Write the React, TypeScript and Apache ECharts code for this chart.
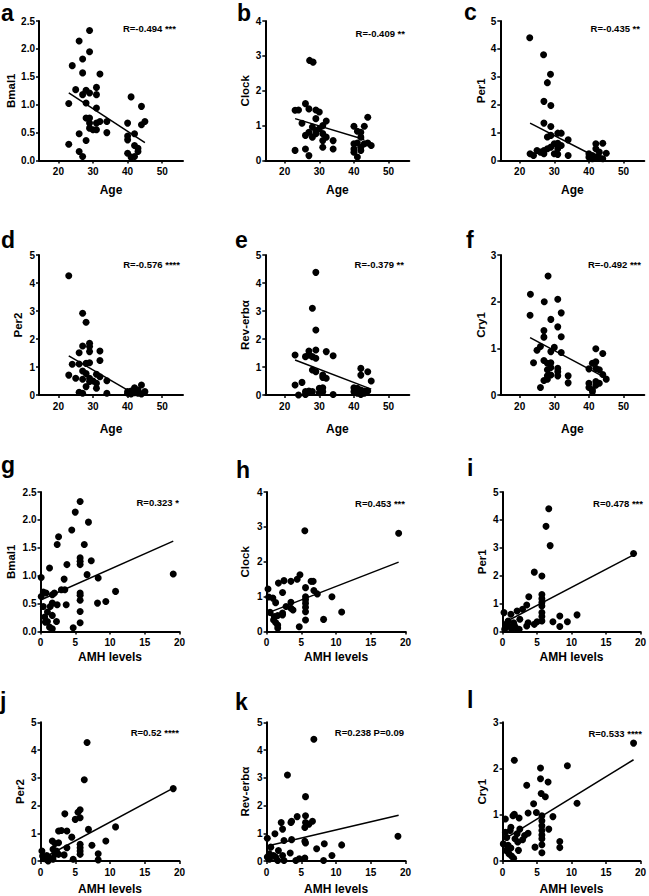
import React, { useEffect, useRef } from "react";
import * as echarts from "echarts";

const FONT = "'Liberation Sans', Arial, Helvetica, sans-serif";

// ---------- data ----------
const bmal1Age = [[24,1.70],[26,2.14],[29,2.33],[27,1.82],[29,1.95],[27,1.57],[32,1.55],[25,1.27],[23,1.02],[28,1.26],[29,1.21],[27,1.18],[31,1.31],[31,1.18],[28,1.03],[31,0.94],[28,0.76],[29,0.76],[29,0.67],[32,0.70],[31,0.67],[34,0.70],[29,0.58],[30,0.55],[31,0.55],[34,0.50],[26,0.48],[23,0.29],[28,0.36],[26,0.16],[27,0.07],[41,1.14],[40,0.67],[44,0.97],[44,0.64],[45,0.70],[40,0.44],[40,0.37],[42,0.48],[42,0.27],[43,0.22],[43,0.16],[40,0.13],[41,0.06],[42,0.07]];
const bmal1AgeFit = [[23,1.21],[45,0.32]];

const clockAge = [[27.2,2.87],[28.2,2.82],[23,1.44],[24,1.45],[26,1.63],[27,1.48],[29,1.45],[30,1.39],[29,1.20],[25,1.07],[32,1.13],[31,1.00],[30,0.91],[28,0.96],[29,0.86],[27,0.81],[26,0.72],[28,0.67],[31,0.77],[32,0.67],[34,0.57],[31,0.57],[23,0.29],[26,0.33],[27,0.14],[31,0.38],[34,0.33],[29,0.77],[44,1.24],[40,0.98],[43,0.98],[41,0.84],[42,0.81],[42,0.67],[40,0.48],[40,0.33],[44,0.50],[45,0.43],[43,0.48],[42,0.38],[40,0.24],[41,0.10],[42,0.29],[41,0.50]];
const clockAgeFit = [[23,1.20],[43,0.60]];

const per1Age = [[22.9,4.40],[26.9,3.79],[28.9,3.09],[28,2.79],[27,2.12],[29,1.97],[27,1.34],[29,1.22],[31,0.98],[32,0.98],[28,0.84],[29,0.90],[34,0.74],[31,0.62],[32,0.54],[31,0.42],[29,0.48],[28,0.42],[26,0.30],[25,0.36],[27,0.24],[23,0.24],[24,0.18],[30,0.24],[31,0.22],[34,0.18],[27,0.36],[30,0.60],[44,0.62],[42,0.60],[42,0.42],[43,0.30],[45,0.26],[40,0.24],[41,0.18],[40,0.12],[42,0.12],[43,0.10],[41,0.06],[44,0.06]];
const per1AgeFit = [[23,1.34],[42.5,0.10]];

const per2Age = [[23,4.26],[27,2.92],[28,2.60],[27,1.75],[29,1.85],[29,1.73],[29,1.55],[32,1.57],[26,1.51],[32,1.23],[24,1.10],[26,1.11],[28,1.13],[29,1.15],[27,0.86],[28,0.77],[31,0.74],[32,0.65],[23,0.71],[25,0.60],[27,0.56],[29,0.60],[30,0.50],[34,0.51],[31,0.42],[28,0.30],[31,0.24],[26,0.10],[27,0.06],[34,0.06],[29,0.48],[44,0.36],[42,0.26],[43,0.18],[41,0.14],[40,0.12],[45,0.12],[42,0.08],[40,0.06],[43,0.06],[41,0.04],[44,0.04]];
const per2AgeFit = [[23,1.40],[41,0.10]];

const reverbAge = [[29,4.38],[28,3.10],[29,2.32],[23,1.43],[26,1.37],[27,1.57],[27,1.43],[29,1.61],[28,1.37],[29,1.31],[32,1.55],[34,1.40],[28,0.89],[29,0.83],[31,0.71],[32,0.60],[31,0.63],[23,0.36],[25,0.45],[24,0.00],[26,0.12],[27,0.14],[28,0.12],[30,0.24],[31,0.26],[31,0.12],[34,0.02],[26,0.02],[30,0.08],[42,0.95],[44,0.83],[42,0.71],[45,0.50],[40,0.26],[41,0.24],[42,0.18],[43,0.14],[44,0.14],[41,0.06],[42,0.02],[40,0.12],[43,0.06]];
const reverbAgeFit = [[23,1.25],[45,0.21]];

const cry1Age = [[28.2,2.55],[23.1,2.16],[27.1,2.00],[31,2.05],[23,1.71],[32,1.76],[29,1.62],[27,1.38],[31,1.46],[27,1.24],[32,1.25],[25,0.96],[26,1.04],[30,1.02],[29,0.93],[32,0.91],[24,0.69],[27,0.74],[28,0.68],[29,0.69],[29,0.59],[31,0.57],[31,0.50],[28,0.54],[29,0.43],[31,0.41],[34,0.41],[34,0.26],[28,0.41],[27,0.31],[28,0.34],[26,0.16],[42,0.99],[44,0.89],[41,0.68],[42,0.71],[40,0.56],[42,0.57],[43,0.54],[44,0.44],[45,0.34],[40,0.25],[42,0.29],[43,0.25],[42,0.21],[40,0.16],[41,0.11],[41,0.07]];
const cry1AgeFit = [[23,1.23],[45,0.36]];

const bmal1Amh = [[5.7,2.33],[5,2.14],[6.9,1.96],[4.5,1.82],[2.6,1.70],[2.4,1.56],[6.3,1.56],[5.7,1.32],[5.7,1.26],[7.3,1.27],[5.7,1.20],[3.8,1.20],[1.3,1.14],[6.7,1.02],[0.1,0.97],[3.4,0.94],[8.3,0.96],[19.1,1.03],[0.4,0.71],[0.8,0.69],[1.7,0.66],[2.0,0.69],[3.0,0.75],[3.5,0.75],[5.7,0.69],[5.7,0.65],[10.8,0.72],[0.1,0.63],[0.4,0.45],[1.7,0.51],[2.4,0.48],[3.7,0.48],[8.2,0.51],[9.4,0.54],[5.7,0.56],[1.4,0.45],[5.7,0.36],[0.6,0.26],[1.0,0.35],[1.7,0.29],[1.0,0.18],[2.3,0.18],[5.7,0.16],[1.3,0.08],[1.7,0.05],[4.7,0.07],[0.7,0.17]];
const bmal1AmhFit = [[0.1,0.57],[19.1,1.62]];

const clockAmh = [[5.5,2.89],[19,2.82],[4.8,1.63],[4.4,1.50],[3.5,1.44],[2.5,1.46],[1.7,1.39],[6.4,1.44],[6.7,1.44],[0.2,1.22],[5.6,1.26],[2.3,1.12],[6.8,1.18],[7.3,1.08],[0.3,0.99],[0.9,0.96],[5.6,1.00],[9.4,1.00],[5.6,0.91],[1.3,0.83],[3.5,0.84],[5.6,0.81],[2.8,0.72],[3.5,0.67],[3.8,0.62],[5.6,0.70],[5.6,0.57],[0.5,0.55],[2.3,0.53],[10.8,0.56],[1.1,0.43],[1.6,0.46],[8.2,0.35],[5.6,0.33],[1.0,0.33],[1.3,0.26],[1.6,0.19],[4.7,0.14],[1.6,0.10],[2.3,0.48]];
const clockAmhFit = [[0.1,0.53],[19,1.99]];

const per1Amh = [[6.7,4.40],[6.3,3.77],[6.9,3.08],[19.0,2.80],[4.6,2.13],[5.7,1.99],[5.7,1.33],[5.7,1.18],[3.8,1.25],[5.7,1.04],[5.7,0.92],[3.5,0.95],[2.9,0.80],[2.1,0.74],[5.7,0.68],[0.2,0.68],[1.2,0.62],[10.8,0.60],[8.3,0.56],[5.7,0.38],[7.3,0.35],[9.4,0.35],[5.0,0.35],[3.7,0.32],[4.6,0.26],[8.3,0.18],[2.5,0.44],[0.8,0.38],[1.6,0.32],[3.5,0.20],[0.5,0.26],[0.9,0.20],[1.9,0.14],[1.3,0.08],[2.4,0.08],[0.3,0.08],[1.7,0.23],[5.7,0.54]];
const per1AmhFit = [[0.3,0.33],[19,2.75]];

const per2Amh = [[6.7,4.27],[6.3,2.93],[19.1,2.61],[5.7,1.85],[5.4,1.76],[5.7,1.56],[5.0,1.50],[3.5,1.70],[3.0,1.10],[2.6,1.08],[3.8,1.08],[6.9,1.14],[10.8,1.23],[4.5,0.86],[9.4,0.72],[7.4,0.57],[1.7,0.72],[2.1,0.63],[2.6,0.66],[5.7,0.60],[5.7,0.48],[5.7,0.36],[5.7,0.24],[3.8,0.48],[1.8,0.42],[8.3,0.26],[3.4,0.22],[2.6,0.24],[2.1,0.24],[0.2,0.36],[0.9,0.20],[1.3,0.12],[1.8,0.06],[0.6,0.08],[4.7,0.06],[1.1,0.0],[8.3,0.04],[0.3,0.18],[2.3,0.36]];
const per2AmhFit = [[0.2,0.08],[19.1,2.63]];

const reverbAmh = [[6.8,4.39],[3.0,3.10],[5.6,2.32],[5.6,1.63],[4.4,1.60],[3.6,1.43],[3.5,1.39],[2.1,1.39],[6.6,1.43],[5.6,1.39],[6.1,1.33],[5.5,1.21],[2.3,1.15],[1.2,0.98],[0.1,0.82],[18.9,0.89],[5.5,0.71],[5.6,0.65],[3.6,0.77],[2.5,0.74],[8.3,0.62],[10.8,0.58],[7.2,0.44],[0.6,0.50],[1.7,0.38],[3.4,0.29],[9.4,0.20],[2.3,0.20],[0.4,0.26],[1.0,0.20],[1.3,0.14],[4.7,0.08],[5.5,0.11],[0.4,0.06],[1.6,0.02],[2.5,0.02],[8.2,0.02],[4.2,0.02],[0.1,0.14]];
const reverbAmhFit = [[0.1,0.54],[19,1.65]];

const cry1Amh = [[19.0,2.55],[1.7,2.18],[5.5,2.01],[9.4,2.06],[5.5,1.78],[6.6,1.71],[3.5,1.64],[5.6,1.46],[6.2,1.39],[4.5,1.24],[10.8,1.25],[3.7,1.04],[4.9,1.05],[1.7,1.01],[1.5,0.98],[7.3,0.96],[2.4,0.93],[0.4,0.91],[5.7,0.98],[5.7,0.87],[5.7,0.76],[5.7,0.66],[5.7,0.56],[5.7,0.48],[5.7,0.35],[5.7,0.18],[6.7,0.69],[1.2,0.73],[1.1,0.66],[2.5,0.69],[2.1,0.59],[1.8,0.48],[3.2,0.55],[3.7,0.60],[2.9,0.46],[2.2,0.41],[0.4,0.62],[0.6,0.51],[0.1,0.37],[0.8,0.34],[1.2,0.28],[0.5,0.23],[2.3,0.23],[0.9,0.16],[1.3,0.11],[1.6,0.06],[8.3,0.42],[8.3,0.29],[4.7,0.30]];
const cry1AmhFit = [[0.1,0.46],[19,2.19]];

const panelLetters = ["a","b","c","d","e","f","g","h","i","j","k","l"];
const geneNames = ["Bmal1","Clock","Per1","Per2","Rev-erbα","Cry1"];
const rLabels = ["R=-0.494 ***","R=-0.409 **","R=-0.435 **","R=-0.576 ****","R=-0.379 **","R=-0.492 ***","R=0.323 *","R=0.453 ***","R=0.478 ***","R=0.52 ****","R=0.238 P=0.09","R=0.533 ****"];
const geneYMax = [2.5, 4, 5, 5, 5, 3];
const geneYStep = [0.5, 1, 1, 1, 1, 1];
const ageTicks = [20, 30, 40, 50];
const amhTicks = [0, 5, 10, 15, 20];
const xNames = ["Age", "AMH levels"];
const panelData = [bmal1Age, clockAge, per1Age, per2Age, reverbAge, cry1Age, bmal1Amh, clockAmh, per1Amh, per2Amh, reverbAmh, cry1Amh];
const panelFits = [bmal1AgeFit, clockAgeFit, per1AgeFit, per2AgeFit, reverbAgeFit, cry1AgeFit, bmal1AmhFit, clockAmhFit, per1AmhFit, per2AmhFit, reverbAmhFit, cry1AmhFit];

// ---------- layout ----------
const ageLeft = [39, 265.3, 500.3];
const amhLeft = [40.5, 266.6, 502.6];
const rowTop = [21, 255, 492, 722.3];
const rowHeight = [139.5, 140, 139.6, 139.8];
const xNameGap = [23.5, 28, 19.5, 22];
const yNameGap = [21.5, 14.2, 12.5, 15, 14.2, 12.5, 23.2, 15.6, 15, 15, 15.6, 15];
const rPos = [[176,28],[405,33],[640,28],[180,264],[404,264],[641,264],[179,502],[405,503],[643,503],[179,732],[404,732],[642,733]];
const letterPos = [[1,21],[237,21],[464,20],[1,248.3],[235,248.3],[466,248.3],[1,473],[236,478.3],[467,476.7],[0,709],[235,710],[467,708.3]];

function buildOption() {
  const grids: any[] = [];
  const xAxes: any[] = [];
  const yAxes: any[] = [];
  const series: any[] = [];
  const graphics: any[] = [];
  const axisLine = { show: true, onZero: false, lineStyle: { color: "#000", width: 2 } };
  const labelStyle = { color: "#000", fontSize: 10, fontWeight: "bold", fontFamily: FONT };
  const xNameStyle = { color: "#000", fontSize: 12, fontWeight: "bold", fontFamily: FONT };
  const yNameStyle = { color: "#000", fontSize: 11.5, fontWeight: "bold", fontFamily: FONT };

  panelLetters.forEach((letter, i) => {
    const row = Math.floor(i / 3);
    const col = i % 3;
    const gene = i % 6;
    const isAge = row < 2;
    grids.push({
      left: isAge ? ageLeft[col] : amhLeft[col],
      top: rowTop[row],
      width: isAge ? 144 : 139,
      height: rowHeight[row],
      containLabel: false,
    });
    const ticks = isAge ? ageTicks : amhTicks;
    xAxes.push({
      gridIndex: i,
      type: "value",
      min: isAge ? 14.4 : 0,
      max: isAge ? 56 : 20,
      ...(isAge ? {} : { interval: 5 }),
      name: xNames[isAge ? 0 : 1],
      nameLocation: "middle",
      nameGap: xNameGap[row],
      nameTextStyle: xNameStyle,
      axisLine,
      axisTick: { show: true, length: 3, lineStyle: { color: "#000", width: 1.5 }, ...(isAge ? { customValues: ticks } : {}) },
      axisLabel: { ...labelStyle, margin: 6, ...(isAge ? { customValues: ticks } : {}) },
      splitLine: { show: false },
    });
    const yMax = geneYMax[gene];
    const yStep = geneYStep[gene];
    yAxes.push({
      gridIndex: i,
      type: "value",
      min: 0,
      max: yMax,
      interval: yStep,
      name: geneNames[gene],
      nameLocation: "middle",
      nameGap: yNameGap[i],
      nameTextStyle: yNameStyle,
      axisLine,
      axisTick: { show: true, length: 3, lineStyle: { color: "#000", width: 1.5 } },
      axisLabel: {
        ...labelStyle,
        margin: 4,
        formatter: (v: number) => (yStep < 1 ? v.toFixed(1) : String(v)),
      },
      splitLine: { show: false },
    });
    series.push({
      type: "scatter",
      xAxisIndex: i,
      yAxisIndex: i,
      data: panelData[i],
      symbol: "circle",
      symbolSize: 7,
      itemStyle: { color: "#000", opacity: 1 },
      clip: false,
    });
    series.push({
      type: "line",
      xAxisIndex: i,
      yAxisIndex: i,
      data: panelFits[i],
      symbol: "none",
      lineStyle: { color: "#000", width: 1.5 },
      z: 3,
    });
    graphics.push({
      type: "text",
      x: rPos[i][0],
      y: rPos[i][1],
      style: {
        text: rLabels[i],
        fill: "#000",
        fontSize: 9.5,
        fontWeight: "bold",
        fontFamily: FONT,
        align: "right",
        verticalAlign: "middle",
      },
    });
    graphics.push({
      type: "text",
      x: letterPos[i][0],
      y: letterPos[i][1] - 8.3,
      style: {
        text: letter,
        fill: "#000",
        fontSize: 23,
        fontWeight: "bold",
        fontFamily: FONT,
        align: "left",
        verticalAlign: "middle",
      },
    });
  });

  return {
    animation: false,
    backgroundColor: "#fff",
    grid: grids,
    xAxis: xAxes,
    yAxis: yAxes,
    series,
    graphic: graphics,
  };
}

export default function App() {
  const ref = useRef<HTMLDivElement>(null);
  useEffect(() => {
    if (!ref.current) return;
    const chart = echarts.init(ref.current, undefined, { renderer: "svg" });
    chart.setOption(buildOption() as any);
    return () => chart.dispose();
  }, []);
  return (
    <div
      ref={ref}
      style={{ position: "absolute", left: 0, top: 0, width: 649, height: 896, background: "#fff" }}
    />
  );
}
